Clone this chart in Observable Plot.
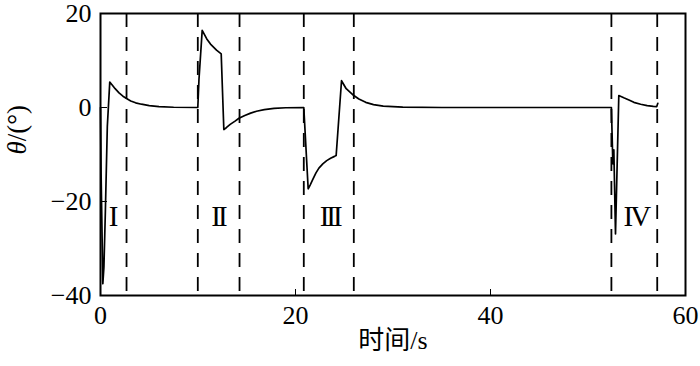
<!DOCTYPE html>
<html>
<head>
<meta charset="utf-8">
<script src="https://cdn.jsdelivr.net/npm/d3@7"></script>
<script src="https://cdn.jsdelivr.net/npm/@observablehq/plot@0.6"></script>
<style>
  html, body { margin: 0; padding: 0; background: #fff; }
  #chart { width: 700px; height: 366px; }
</style>
</head>
<body>
<div id="chart"></div>
<script>
// time (s) and angle θ (°)
const times = [
  0.0, 0.06, 0.24, 0.35, 0.5, 0.7, 0.95, 1.2, 1.5, 1.9, 2.3, 2.67, 3.1, 3.6, 4.2, 5.0, 6.0, 7.5, 9.98,
  10.1, 10.43, 10.9, 11.28, 11.9, 12.38, 12.65, 12.9, 13.3, 13.8, 14.2, 14.8, 15.4, 16.0, 16.8, 17.8, 19.0, 20.85,
  21.3, 21.5, 21.8, 22.1, 22.4, 22.8, 23.2, 23.6, 24.0, 24.17, 24.72, 25.2, 25.98, 26.5, 27.2, 28.0, 29.0, 31.0, 35.0, 52.4,
  52.55, 52.65, 52.82, 53.16, 53.67, 54.2, 54.7, 55.4, 56.07, 56.7, 57.05, 57.16
];
const theta = [
  0.0, -14, -37.5, -34, -22, -4, 5.4, 4.8, 4.0, 3.1, 2.4, 1.9, 1.4, 1.0, 0.7, 0.4, 0.2, 0.05, 0.0,
  6, 16.4, 14.6, 13.5, 12.2, 11.4, -4.7, -4.3, -3.6, -2.9, -2.3, -1.7, -1.2, -0.8, -0.45, -0.2, -0.05, 0.0,
  -17.3, -16.5, -15.2, -13.9, -12.9, -12.0, -11.3, -10.8, -10.4, -10.2, 5.7, 4.0, 2.55, 1.8, 1.1, 0.6, 0.3, 0.1, 0.0, 0.0,
  -12, -9, -26.9, 2.55, 2.06, 1.6, 1.1, 0.7, 0.4, 0.25, 0.2, 0.9
];
// dashed phase boundaries (s)
const boundaries = [2.67, 9.98, 14.26, 20.85, 25.98, 52.4, 57.1];
// phase labels and their positions
const phaseLabels = ["I", "II", "III", "IV"];
const phaseX = [1.33, 12.05, 23.5, 54.9];
const phaseY = [-23.3, -23.3, -23.3, -23.3];
const xTicks = [0, 20, 40, 60];
const yTicks = [-40, -20, 0, 20];
const xLabel = "时间/s";
const yLabel = "θ/(°)";

const data = times.map((t, i) => ({t, v: theta[i]}));
const phases = phaseLabels.map((s, i) => ({s, x: phaseX[i], y: phaseY[i]}));

const serif = "Liberation Serif, Times New Roman, Noto Sans CJK SC, serif";

const chart = Plot.plot({
  width: 700,
  height: 366,
  marginLeft: 100,
  marginRight: 15,
  marginTop: 13,
  marginBottom: 71,
  style: {fontFamily: serif, fontSize: "26px"},
  x: {domain: [0, 60]},
  y: {domain: [-40, 20]},
  marks: [
    Plot.ruleX(boundaries, {stroke: "#000", strokeWidth: 1.8, strokeDasharray: "14,10"}),
    Plot.line(data, {x: "t", y: "v", stroke: "#000", strokeWidth: 1.7, strokeLinejoin: "round"}),
    Plot.text(phases, {x: "x", y: "y", text: "s", fontSize: 29, fontFamily: serif, fill: "#000"}),
    Plot.axisX({ticks: xTicks, tickSize: 0, tickPadding: 10, label: null, fontSize: 26, fontFamily: serif, fill: "#000"}),
    Plot.axisX({ticks: [20, 40], tickSize: -6, fill: "none", label: null, stroke: "#000"}),
    Plot.axisY({ticks: yTicks, tickSize: 0, tickPadding: 9, label: null, fontSize: 26, fontFamily: serif, fill: "#000"}),
    Plot.axisY({ticks: [-20, 0], tickSize: -7, fill: "none", label: null, stroke: "#000"}),
    Plot.text([xLabel], {frameAnchor: "bottom", dy: 53, fontSize: 26, fontFamily: serif, fill: "#000"}),
    Plot.text([yLabel], {frameAnchor: "left", dx: -83, rotate: -90, fontSize: 27, fontFamily: serif, fill: "#000"}),
    Plot.frame({stroke: "#000", strokeWidth: 2})
  ]
});

const ns = "http://www.w3.org/2000/svg";
chart.querySelectorAll("g, text").forEach(el => {
  el.setAttribute("font-family", serif);
  el.style.setProperty("font-family", "'Liberation Serif', 'Noto Sans CJK SC', serif", "important");
  el.style.setProperty("font-variant", "normal");
});
chart.querySelectorAll("text").forEach(el => {
  if (el.textContent === yLabel) {
    // italic θ only
    el.textContent = "";
    const a = document.createElementNS(ns, "tspan");
    a.setAttribute("font-style", "italic");
    a.textContent = "θ";
    const b = document.createElementNS(ns, "tspan");
    b.textContent = "/(°)";
    el.appendChild(a); el.appendChild(b);
  }
  if (phaseLabels.includes(el.textContent) && el.textContent.length > 1) {
    el.setAttribute("letter-spacing", "-3");
  }
});

document.getElementById("chart").appendChild(chart);
</script>
</body>
</html>
